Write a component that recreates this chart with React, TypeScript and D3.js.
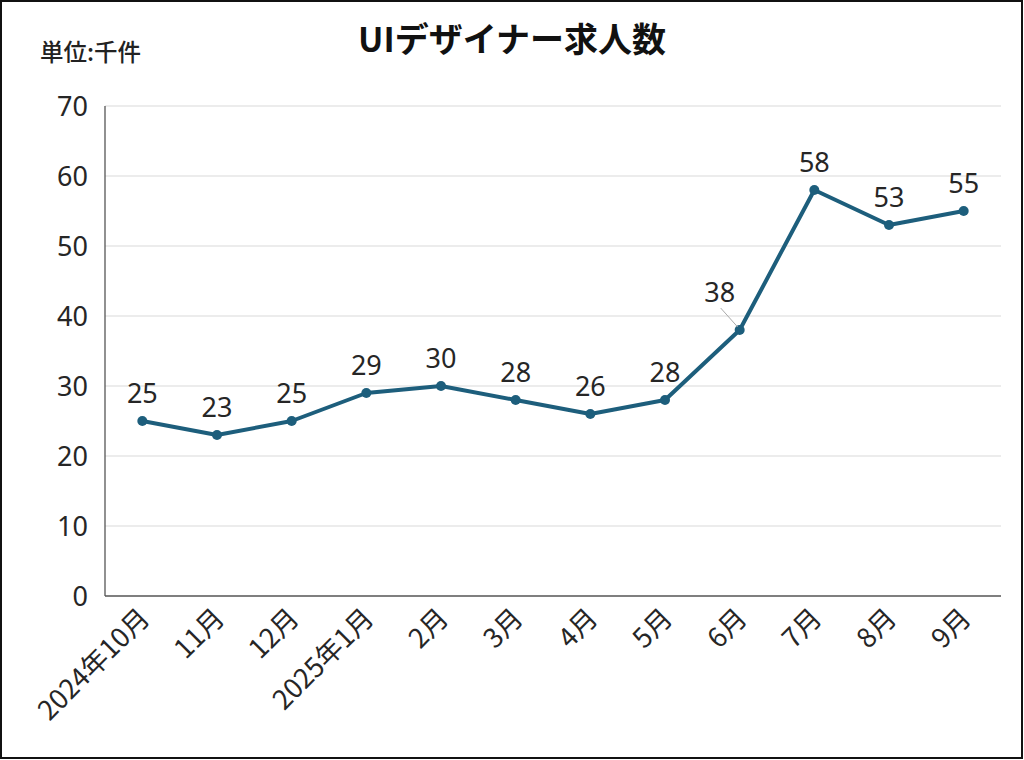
import React from "react";
import * as d3 from "d3";

const categories = ["2024年10月", "11月", "12月", "2025年1月", "2月", "3月", "4月", "5月", "6月", "7月", "8月", "9月"];
const values = [25, 23, 25, 29, 30, 28, 26, 28, 38, 58, 53, 55];
const yTicks = [0, 10, 20, 30, 40, 50, 60, 70];
const title = "UIデザイナー求人数";
const unitLabel = "単位:千件";

const W = 1024;
const H = 760;
const FONT = "'Noto Sans', 'Noto Sans CJK JP', sans-serif";

export default function App() {
  const left = 105, right = 1001, top = 106, bottom = 596;
  const x = d3.scaleBand<string>().domain(categories).range([left, right]);
  const y = d3.scaleLinear().domain([0, 70]).range([bottom, top]);
  const cx = (c: string) => (x(c) as number) + x.bandwidth() / 2;
  const line = d3.line<number>().x((_, i) => cx(categories[i])).y((d) => y(d));

  return (
    <svg width={W} height={H} style={{ position: "absolute", left: 0, top: 0, background: "#fff" }} fontFamily={FONT}>
      <rect x={1} y={1} width={W - 3} height={H - 3} fill="#fff" stroke="#111" strokeWidth={2} />
      <text x={512} y={52} textAnchor="middle" fontSize={34} fontWeight="bold" fill="#111" fontFamily="'Noto Sans CJK JP', sans-serif">{title}</text>
      <text x={40} y={61} fontSize={23.5} fontWeight={500} fill="#222" fontFamily="'Noto Sans CJK JP', sans-serif">{unitLabel}</text>
      {yTicks.map((t) => (
        <g key={t}>
          {t > 0 && <line x1={left} x2={right} y1={y(t)} y2={y(t)} stroke="#d9d9d9" strokeWidth={1.2} />}
          <text x={88} y={y(t)} dy="0.36em" textAnchor="end" fontSize={27} fill="#262626">{t}</text>
        </g>
      ))}
      <line x1={left} x2={left} y1={top} y2={bottom} stroke="#555" strokeWidth={1.3} />
      <line x1={left} x2={right} y1={bottom} y2={bottom} stroke="#555" strokeWidth={1.3} />
      {categories.map((c) => (
        <text key={c} transform={`translate(${cx(c) + 9},${bottom + 24}) rotate(-45)`} textAnchor="end" fontSize={27} fill="#262626" fontFamily="'Noto Sans CJK JP', sans-serif">{c}</text>
      ))}
      <path d={line(values) || ""} fill="none" stroke="#1d5e7c" strokeWidth={4} strokeLinejoin="round" />
      {values.map((v, i) => (
        <circle key={i} cx={cx(categories[i])} cy={y(v)} r={5} fill="#1d5e7c" />
      ))}
      {values.map((v, i) => {
        const px = cx(categories[i]);
        const py = y(v);
        if (i === 8) {
          return (
            <g key={i}>
              <line x1={px - 19} x2={px - 2} y1={py - 22} y2={py - 3} stroke="#aaa" strokeWidth={1} />
              <text x={px - 20} y={py - 28} textAnchor="middle" fontSize={27} fill="#262626">{v}</text>
            </g>
          );
        }
        return (
          <text key={i} x={px} y={py - 18} textAnchor="middle" fontSize={27} fill="#262626">{v}</text>
        );
      })}
    </svg>
  );
}
